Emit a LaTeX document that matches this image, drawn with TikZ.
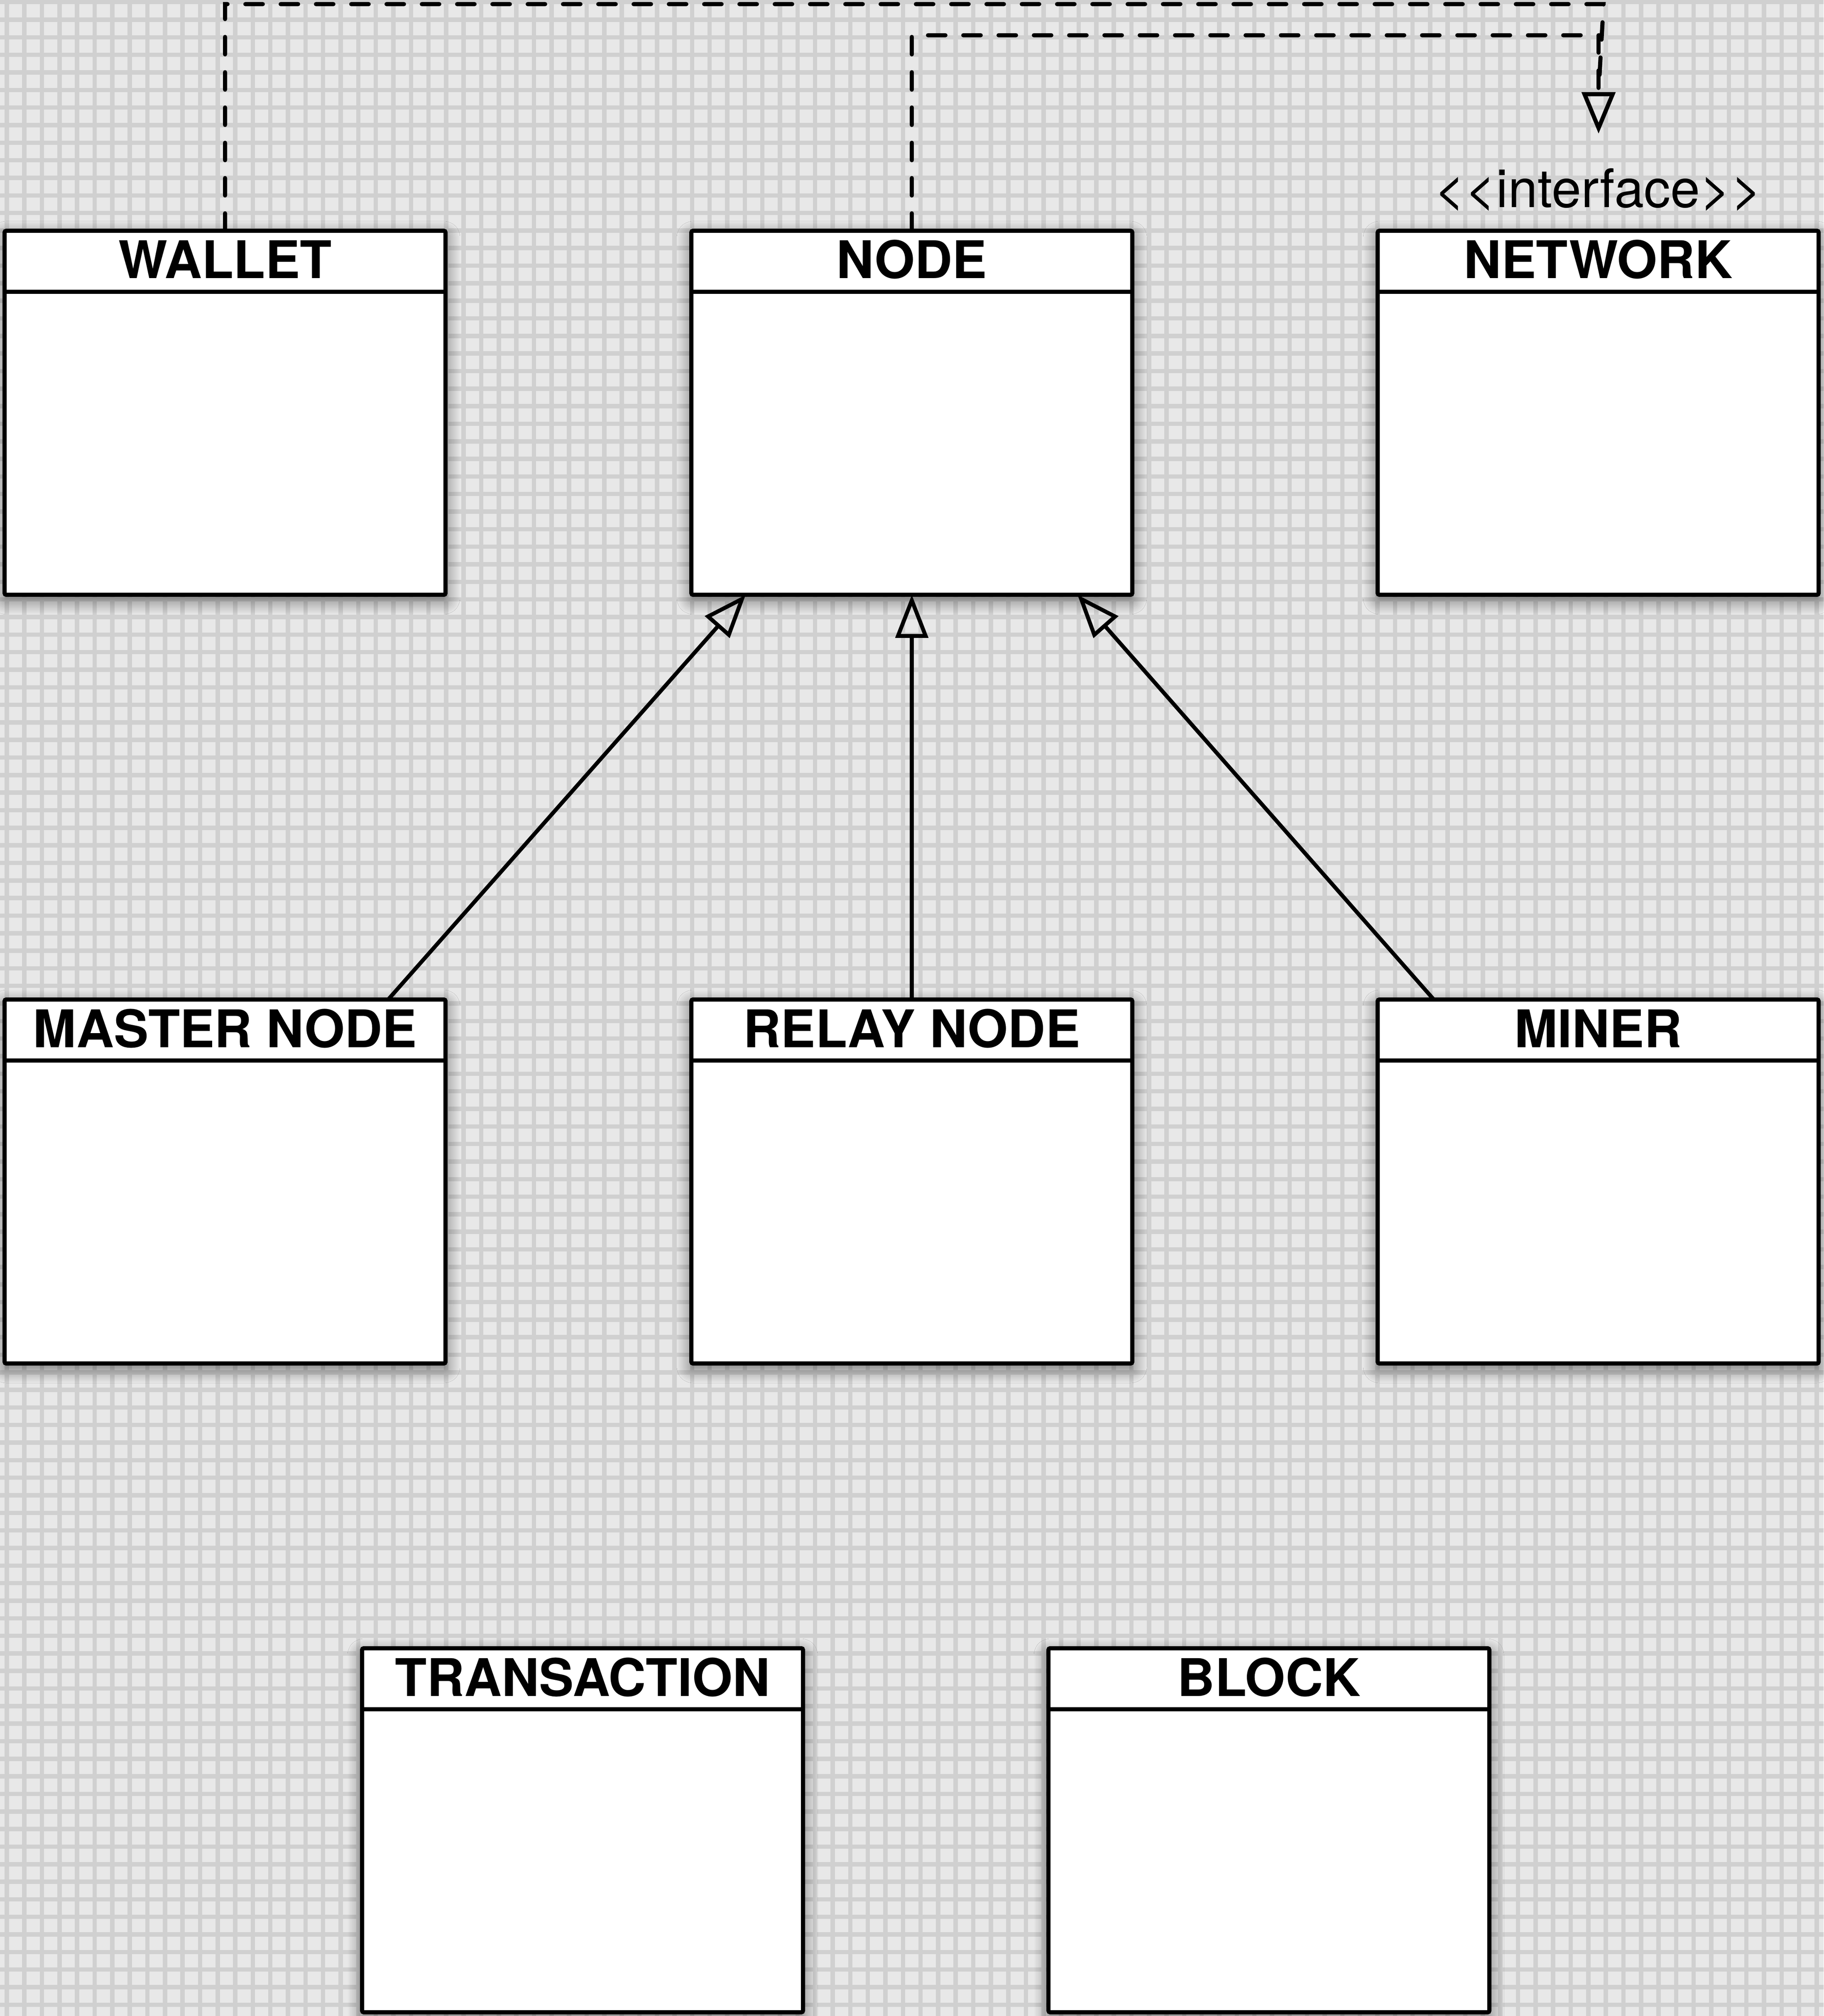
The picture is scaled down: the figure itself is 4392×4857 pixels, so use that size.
\documentclass[tikz,border=0pt]{standalone}
\usepackage{fontspec}
\setmainfont{TeX Gyre Heros}
\newfontfamily\ifcfont{TeX Gyre Heros}[Ligatures=TeXOff]
\usetikzlibrary{arrows.meta,calc,shadows.blur}
\definecolor{gridbg}{HTML}{E8E8E8}
\definecolor{gridln}{HTML}{D0D0D0}
\tikzset{
  classbox/.style={draw=black, fill=white, line width=1pt, rounded corners=0.4pt,
    minimum width=106.2pt, minimum height=87.7pt, inner sep=0pt, outer sep=0pt,
    blur shadow={shadow xshift=0pt, shadow yshift=-1.2pt, shadow blur radius=3.5pt,
      shadow opacity=55, shadow blur steps=12}},
  divider/.style={line width=1pt},
  titletext/.style={font=\fontsize{12.5pt}{15pt}\selectfont\bfseries, inner sep=0pt, outer sep=0pt},
  ifctext/.style={font=\ifcfont\fontsize{12.8pt}{15pt}\selectfont, inner sep=0pt, outer sep=0pt},
  inherit/.style={line width=0.95pt, -{Triangle[open, length=10.4pt, width=7.8pt]}},
  realize/.style={line width=1pt, dash pattern=on 4.2pt off 4.3pt, line cap=round},
  realizetip/.style={realize, -{Triangle[open, length=10pt, width=8pt, line cap=butt]}},
  gridline/.style={gridln, line width=1.05pt},
}
\newcommand{\umlbox}[4]{%
  \node[classbox, anchor=north] (#1) at (#2,#3) {};
  \draw[divider] ([yshift=-14.7pt]#1.north west) -- ([yshift=-14.7pt]#1.north east);
  \node[titletext, anchor=base] (#1-title) at ($(#1.north)+(0,115)$) {#4};
}
\begin{document}
\begin{tikzpicture}[x=0.1pt, y=-0.1pt]
\fill[gridbg] (0,0) rectangle (4392,4857);
\useasboundingbox (0,0) rectangle (4392,4857);
\begin{scope}
  \clip (0,0) rectangle (4392,4857);
  \foreach \i in {0,...,103} \draw[gridline] ({16.4+42.32*\i},-10) -- ({16.4+42.32*\i},4870);
  \foreach \j in {0,...,114} \draw[gridline] (-10,{5.3+42.32*\j}) -- (4400,{5.3+42.32*\j});
\end{scope}

\umlbox{wallet}{542}{556}{WALLET}
\umlbox{node}{2196}{556}{NODE}
\umlbox{network}{3849}{556}{NETWORK}
\umlbox{master}{542}{2408}{MASTER NODE}
\umlbox{relay}{2196}{2408}{RELAY NODE}
\umlbox{miner}{3849}{2408}{MINER}
\umlbox{transaction}{1403}{3971}{TRANSACTION}
\umlbox{block}{3056}{3971}{BLOCK}

\node[ifctext, anchor=base] (ifc) at (3849,500) {<\kern0pt<interface>\kern0pt>};
\coordinate (ifcTip) at (3850,322);
\coordinate (ifcBase) at (3850,222);
\coordinate (wcorner) at (3862,10);
\coordinate (ncorner) at (3850,85);

\draw[inherit] ([xshift=-13.8pt]master.north east) -- ([xshift=13.1pt]node.south west);
\draw[inherit] (relay.north) -- (node.south);
\draw[inherit] ([xshift=13.5pt]miner.north west) -- ([xshift=-13.2pt]node.south east);

\draw[realize] (wallet.north) |- (wcorner) -- (ifcBase);
\draw[realizetip] (node.north) |- (ncorner) -- (ifcTip);
\end{tikzpicture}
\end{document}
